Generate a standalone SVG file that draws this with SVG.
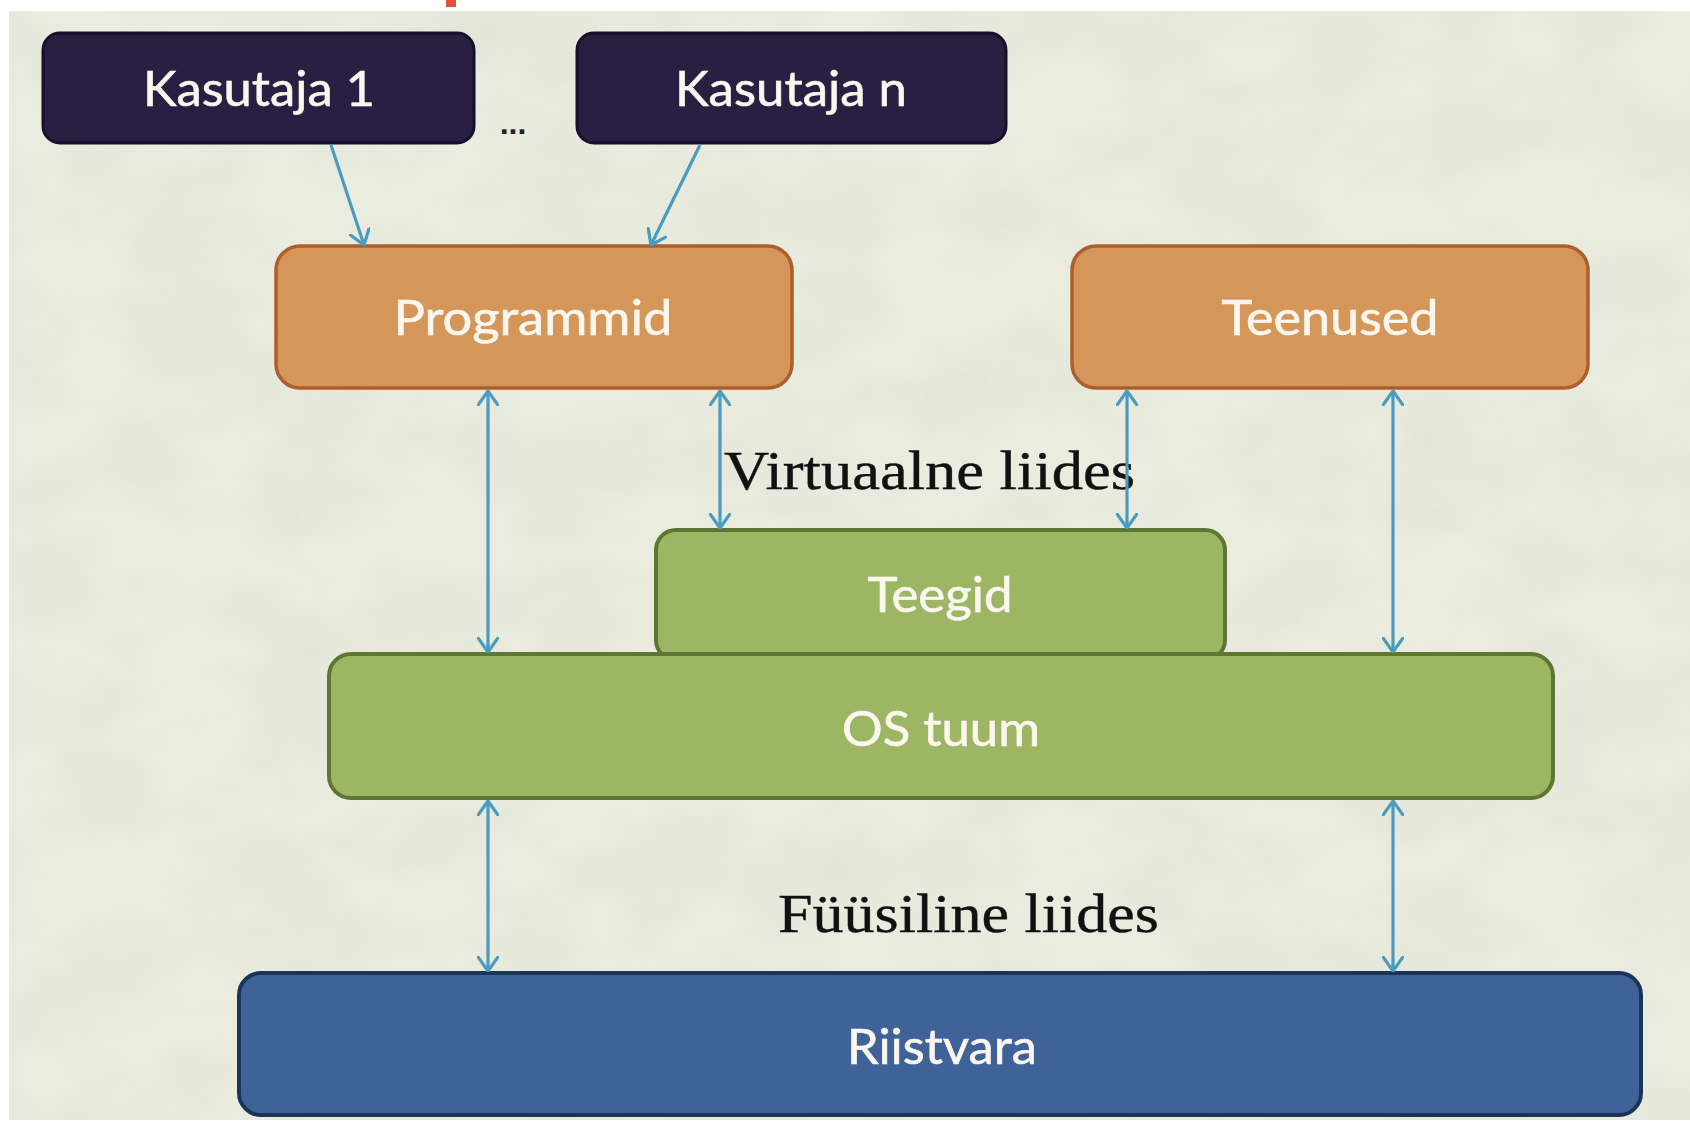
<svg xmlns="http://www.w3.org/2000/svg" width="1690" height="1126" viewBox="0 0 1690 1126">
  <defs>
    <filter id="paper" x="0" y="0" width="100%" height="100%">
      <feTurbulence type="fractalNoise" baseFrequency="0.008 0.012" numOctaves="4" seed="7" result="n"/>
      <feColorMatrix in="n" type="matrix" values="0 0 0 0 0.62  0 0 0 0 0.66  0 0 0 0 0.56  0 0 0 -1.6 1.0" />
    </filter>
    <marker id="head" viewBox="0 0 16 22" refX="15" refY="11" markerWidth="16" markerHeight="22" markerUnits="userSpaceOnUse" orient="auto-start-reverse">
      <path d="M1,1 L15,11 L1,21" fill="none" stroke="#4a9cbf" stroke-width="3.2" stroke-linecap="round" stroke-linejoin="round"/>
    </marker>
    <style>
      .user { fill: #2a1f42; stroke: #16102a; stroke-width: 3; }
      .app { fill: #d59659; stroke: #ad5d2e; stroke-width: 3.5; }
      .core { fill: #9db663; stroke: #5d7732; stroke-width: 4; }
      .hw { fill: #3f6298; stroke: #1b3559; stroke-width: 4; }
      .lbl { font-family: Lato, "Open Sans", "Liberation Sans", sans-serif; font-size: 48px; fill: #fbf7ee; text-anchor: middle; stroke: #fbf7ee; stroke-width: 0.6; }
      .iface { font-family: "Liberation Serif", "DejaVu Serif", serif; font-size: 55px; fill: #111111; stroke: #111111; stroke-width: 0.4; }
      .conn line { stroke: #4a9cbf; stroke-width: 3.2; fill: none; }
    </style>
  </defs>

  <!-- page and paper background -->
  <rect x="0" y="0" width="1690" height="1126" fill="#ffffff"/>
  <rect x="9" y="11" width="1681" height="1109" fill="#eaecdf"/>
  <rect x="9" y="11" width="1681" height="1109" filter="url(#paper)" opacity="0.35"/>
  <rect x="446" y="0" width="10" height="7" fill="#e0523a"/>

  <!-- nodes -->
  <g id="kasutaja1">
    <rect class="user" x="43" y="33" width="431" height="110" rx="17"/>
    <text class="lbl" x="259" y="106" textLength="232" lengthAdjust="spacingAndGlyphs">Kasutaja 1</text>
  </g>
  <g id="ellipsis">
    <text x="513" y="134" font-family="Liberation Sans, sans-serif" font-size="32" font-weight="bold" fill="#222222" text-anchor="middle">...</text>
  </g>
  <g id="kasutajan">
    <rect class="user" x="577" y="33" width="429" height="110" rx="17"/>
    <text class="lbl" x="791" y="106" textLength="232" lengthAdjust="spacingAndGlyphs">Kasutaja n</text>
  </g>
  <g id="programmid">
    <rect class="app" x="276" y="246" width="516" height="142" rx="24"/>
    <text class="lbl" x="533" y="335" textLength="279" lengthAdjust="spacingAndGlyphs">Programmid</text>
  </g>
  <g id="teenused">
    <rect class="app" x="1072" y="246" width="516" height="142" rx="24"/>
    <text class="lbl" x="1330" y="335" textLength="217" lengthAdjust="spacingAndGlyphs">Teenused</text>
  </g>
  <g id="teegid">
    <rect class="core" x="656" y="530" width="569" height="130" rx="20"/>
    <text class="lbl" x="940" y="612" textLength="145" lengthAdjust="spacingAndGlyphs">Teegid</text>
  </g>
  <g id="os-tuum">
    <rect class="core" x="329" y="654" width="1224" height="144" rx="22"/>
    <text class="lbl" x="941" y="746" textLength="198" lengthAdjust="spacingAndGlyphs">OS tuum</text>
  </g>
  <g id="riistvara">
    <rect class="hw" x="239" y="973" width="1402" height="142" rx="22"/>
    <text class="lbl" x="942" y="1064" textLength="190" lengthAdjust="spacingAndGlyphs">Riistvara</text>
  </g>

  <!-- interface labels -->
  <text class="iface" x="724" y="489" textLength="411" lengthAdjust="spacingAndGlyphs">Virtuaalne liides</text>
  <text class="iface" x="778" y="932" textLength="381" lengthAdjust="spacingAndGlyphs">Füüsiline liides</text>

  <!-- connectors -->
  <g class="conn" id="connectors">
    <line x1="331" y1="145" x2="364" y2="245" marker-end="url(#head)"/>
    <line x1="700" y1="145" x2="651" y2="245" marker-end="url(#head)"/>
    <line x1="488" y1="391" x2="488" y2="652" marker-start="url(#head)" marker-end="url(#head)"/>
    <line x1="720" y1="391" x2="720" y2="528" marker-start="url(#head)" marker-end="url(#head)"/>
    <line x1="1127" y1="391" x2="1127" y2="528" marker-start="url(#head)" marker-end="url(#head)"/>
    <line x1="1393" y1="391" x2="1393" y2="652" marker-start="url(#head)" marker-end="url(#head)"/>
    <line x1="488" y1="801" x2="488" y2="971" marker-start="url(#head)" marker-end="url(#head)"/>
    <line x1="1393" y1="801" x2="1393" y2="971" marker-start="url(#head)" marker-end="url(#head)"/>
  </g>
</svg>
